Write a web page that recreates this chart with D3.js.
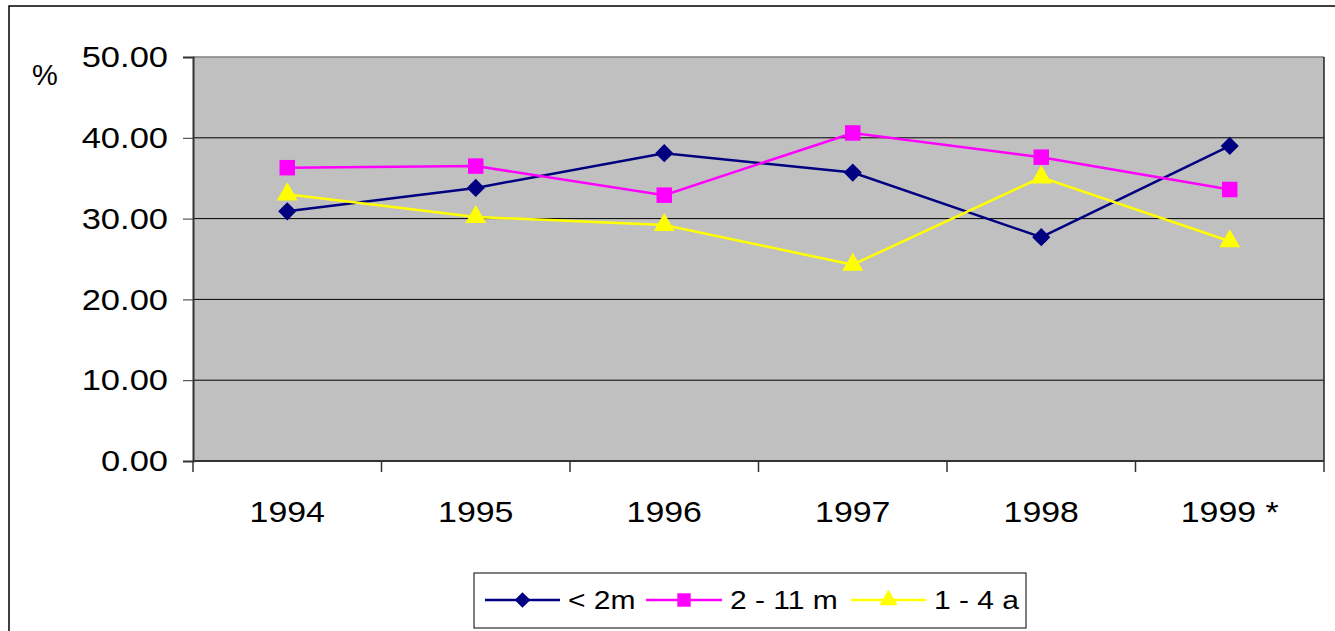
<!DOCTYPE html>
<meta charset="utf-8">
<html>
<head>
<script src="https://d3js.org/d3.v7.min.js"></script>
<style>
  body { margin: 0; background: #fff; }
  text { font-family: "Liberation Sans", Arial, sans-serif; fill: #000; }
</style>
</head>
<body>
<div id="chart"></div>
<script>
  // categories, tick labels and series
  const years = ["1994", "1995", "1996", "1997", "1998", "1999 *"];
  const yTicks = [0, 10, 20, 30, 40, 50];
  const under2m = [30.9, 33.8, 38.1, 35.7, 27.7, 39.0];
  const m2to11 = [36.3, 36.5, 32.9, 40.6, 37.6, 33.6];
  const a1to4 = [33.0, 30.2, 29.2, 24.3, 35.1, 27.2];

  const series = [
    {name: "< 2m", values: under2m, color: "#000080", symbol: d3.symbolSquare, size: 165, rot: 45},
    {name: "2 - 11 m", values: m2to11, color: "#FF00FF", symbol: d3.symbolSquare, size: 240, rot: 0},
    {name: "1 - 4 a", values: a1to4, color: "#FFFF00", symbol: d3.symbolTriangle, size: 190, rot: 0}
  ];

  const W = 1335, H = 631;
  const margin = {top: 57, right: 11, bottom: 170, left: 193};
  const width = W - margin.left - margin.right,
        height = H - margin.top - margin.bottom;

  const root = d3.select("#chart").append("svg")
      .attr("width", W).attr("height", H);

  // outer chart border
  root.append("rect")
    .attr("x", 9).attr("y", 6)
    .attr("width", W + 10).attr("height", H + 10)
    .attr("fill", "none").attr("stroke", "#000").attr("stroke-width", 1.5);

  const svg = root.append("g")
    .attr("transform", `translate(${margin.left},${margin.top})`);

  const x = d3.scaleBand().domain(years).range([0, width]);
  const y = d3.scaleLinear().domain([0, 50]).range([height, 0]);

  // plot area
  svg.append("rect")
    .attr("width", width).attr("height", height)
    .attr("fill", "#C0C0C0");

  // gridlines
  svg.append("g").selectAll("line")
    .data(yTicks.filter(d => d > 0 && d < 50))
    .join("line")
      .attr("x1", 0).attr("x2", width)
      .attr("y1", d => y(d)).attr("y2", d => y(d))
      .attr("stroke", "#000").attr("stroke-width", 1);

  // top and right borders of plot area
  svg.append("line").attr("x1", 0).attr("x2", width).attr("y1", 0).attr("y2", 0)
    .attr("stroke", "#808080").attr("stroke-width", 1.5);
  svg.append("line").attr("x1", width).attr("x2", width).attr("y1", 0).attr("y2", height)
    .attr("stroke", "#222").attr("stroke-width", 1.5);

  // Y axis
  const yAxis = svg.append("g")
    .call(d3.axisLeft(y).tickValues(yTicks).tickFormat(d3.format(".2f")).tickSize(10).tickPadding(8));
  yAxis.select(".domain").attr("stroke", "#333").attr("stroke-width", 2);
  yAxis.selectAll(".tick line").attr("stroke", "#333");
  yAxis.selectAll("text").style("font-size", "30px")
    .attr("transform", "scale(1.15,1)").attr("x", -25 / 1.15);

  // X axis (ticks at category boundaries)
  const xAxis = svg.append("g").attr("transform", `translate(0,${height})`);
  xAxis.append("line").attr("x1", 0).attr("x2", width)
    .attr("stroke", "#333").attr("stroke-width", 2);
  xAxis.selectAll(".xt")
    .data(years.map(d => x(d)).concat([width]))
    .join("line")
      .attr("class", "xt")
      .attr("x1", d => d).attr("x2", d => d)
      .attr("y1", 0).attr("y2", 11)
      .attr("stroke", "#333").attr("stroke-width", 1.5);
  xAxis.selectAll("text")
    .data(years)
    .join("text")
      .attr("text-anchor", "middle")
      .attr("transform", d => `translate(${x(d) + x.bandwidth() / 2},61) scale(1.13,1)`)
      .style("font-size", "30px")
      .text(d => d);

  // unit label
  root.append("text")
    .attr("x", 32).attr("y", 85)
    .style("font-size", "29px")
    .text("%");

  // lines and markers
  const cx = (d, i) => x(years[i]) + x.bandwidth() / 2;
  const line = d3.line().x(cx).y(d => y(d));

  series.forEach(s => {
    svg.append("path")
      .datum(s.values)
      .attr("d", line)
      .attr("fill", "none")
      .attr("stroke", s.color)
      .attr("stroke-width", 2.5);
    svg.append("g").selectAll("path")
      .data(s.values)
      .join("path")
        .attr("transform", (d, i) => `translate(${cx(d, i)},${y(d)}) rotate(${s.rot})`)
        .attr("d", d3.symbol().type(s.symbol).size(s.size))
        .attr("fill", s.color);
  });

  // legend
  const legend = root.append("g").attr("transform", "translate(474,573)");
  legend.append("rect")
    .attr("width", 552).attr("height", 55)
    .attr("fill", "#fff").attr("stroke", "#000").attr("stroke-width", 1);
  const legX = [11, 172, 377];
  const legW = [75, 76, 75];
  series.forEach((s, i) => {
    const g = legend.append("g").attr("transform", `translate(${legX[i]},27)`);
    g.append("line").attr("x1", 0).attr("x2", legW[i])
      .attr("stroke", s.color).attr("stroke-width", 2.5);
    g.append("path")
      .attr("transform", `translate(${legW[i] / 2},0) rotate(${s.rot})`)
      .attr("d", d3.symbol().type(s.symbol).size(s.size * 0.75))
      .attr("fill", s.color);
    g.append("text")
      .attr("transform", `translate(${legW[i] + 8},9) scale(1.2,1)`)
      .style("font-size", "25px")
      .text(s.name);
  });
</script>
</body>
</html>
